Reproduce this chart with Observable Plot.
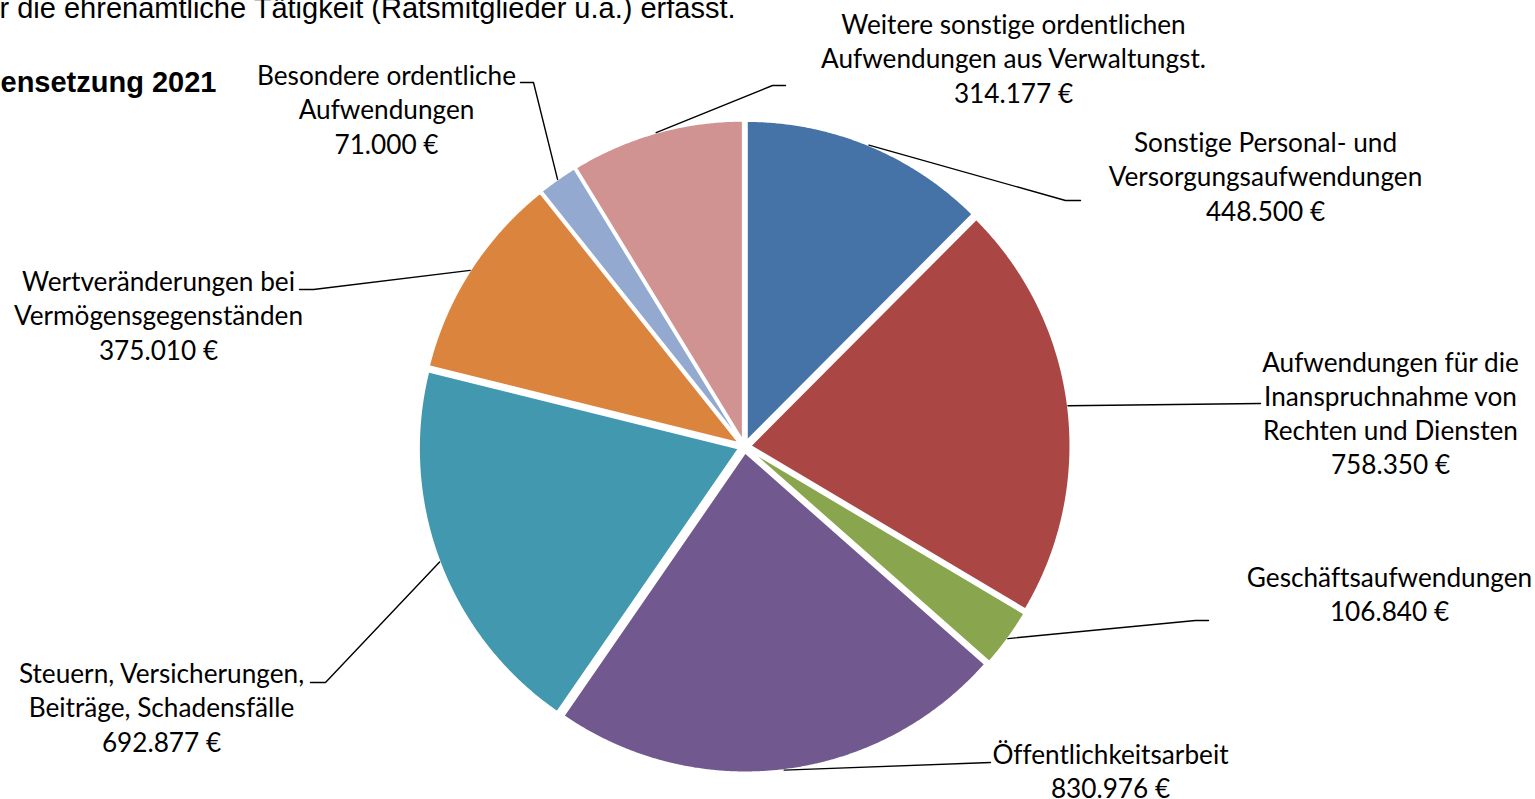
<!DOCTYPE html>
<html><head><meta charset="utf-8">
<script src="https://cdn.jsdelivr.net/npm/d3@7"></script>
<script src="https://cdn.jsdelivr.net/npm/@observablehq/plot@0.6"></script>
<style>html,body{margin:0;padding:0;background:#fff;overflow:hidden}
svg text{font-variant-ligatures:none;font-feature-settings:"liga" 0,"clig" 0}</style>
</head><body><div id="chart"></div>
<script>
// ---- data ----
const categories = [
  "Sonstige Personal- und\nVersorgungsaufwendungen",
  "Aufwendungen für die\nInanspruchnahme von\nRechten und Diensten",
  "Geschäftsaufwendungen",
  "Öffentlichkeitsarbeit",
  "Steuern, Versicherungen,\nBeiträge, Schadensfälle",
  "Wertveränderungen bei\nVermögensgegenständen",
  "Besondere ordentliche\nAufwendungen",
  "Weitere sonstige ordentlichen\nAufwendungen aus Verwaltungst."
];
const values = [448500, 758350, 106840, 830976, 692877, 375010, 71000, 314177];
const colors = ["#4572A7", "#AA4643", "#89A54E", "#71588F", "#4198AF", "#DB843D", "#93A9CF", "#D19392"];
const introText = "r die ehrenamtliche Tätigkeit (Ratsmitglieder u.a.) erfasst.";
const titleText = "ensetzung 2021";

// ---- layout ----
const W = 1535, H = 799;
const CX = 744, CY = 446, R = 320, EXPLODE = 6;
const labelAt = [[1265,175],[1390,411.5],[1389,592.5],[1110,769.5],[161,706],[158,314],[386,108],[1013,57]];
const leaderElbow = [[1065,200],[1260,403],[1195,620],[990,762],[325,682],[313,289],[533,82],[772,85]];
const leaderEnd = [[1080,200],[1260,403],[1208,620],[990,762],[310,682],[299,289],[520,82],[785,85]];

const loc = d3.formatLocale({decimal: ",", thousands: ".", grouping: [3], currency: ["", " €"]});
const fmt = loc.format(",.0f");

const arcs = d3.pie().sort(null).value(d => d)(values);

// slice outlines (geometry derived from the pie angles)
const slicePts = [];
arcs.forEach((a, i) => {
  const mid = (a.startAngle + a.endAngle) / 2;
  const ox = CX + EXPLODE * Math.sin(mid), oy = CY - EXPLODE * Math.cos(mid);
  slicePts.push({i, x: ox, y: oy});
  const n = Math.max(2, Math.ceil((a.endAngle - a.startAngle) / 0.005));
  for (let k = 0; k <= n; k++) {
    const t = a.startAngle + (a.endAngle - a.startAngle) * k / n;
    slicePts.push({i, x: ox + R * Math.sin(t), y: oy - R * Math.cos(t)});
  }
});

const leaderPts = [];
arcs.forEach((a, i) => {
  const mid = (a.startAngle + a.endAngle) / 2;
  const rr = R + EXPLODE;
  leaderPts.push({i, x: CX + rr * Math.sin(mid), y: CY - rr * Math.cos(mid)});
  leaderPts.push({i, x: leaderElbow[i][0], y: leaderElbow[i][1]});
  leaderPts.push({i, x: leaderEnd[i][0], y: leaderEnd[i][1]});
});

const labels = arcs.map((a, i) => ({
  x: labelAt[i][0], y: labelAt[i][1],
  text: categories[i] + "\n" + fmt(values[i]) + " €"
}));

const chart = Plot.plot({
  width: W, height: H, margin: 0,
  x: {domain: [0, W], range: [0, W], axis: null},
  y: {domain: [0, H], range: [0, H], axis: null},
  color: {type: "identity"},
  style: {background: "#fff"},
  marks: [
    Plot.line(slicePts, {x: "x", y: "y", z: "i", fill: d => colors[d.i], stroke: "#fff", strokeWidth: 2, curve: "linear-closed"}),
    Plot.line(leaderPts, {x: "x", y: "y", z: "i", stroke: "#000", strokeWidth: 1.4, strokeLinejoin: "miter"}),
    Plot.text(labels, {x: "x", y: "y", text: "text", fontFamily: "Lato", fontSize: 26.2, lineHeight: 1.31, textAnchor: "middle", lineAnchor: "middle", fill: "#000"}),
    Plot.text([introText], {x: () => -1, y: () => 17, text: d => d, fontFamily: "Liberation Sans", fontSize: 29, textAnchor: "start", lineAnchor: "bottom", fill: "#000"}),
    Plot.text([titleText], {x: () => 0, y: () => 91, text: d => d, fontFamily: "Liberation Sans", fontWeight: "bold", fontSize: 29, textAnchor: "start", lineAnchor: "bottom", fill: "#000"})
  ]
});
document.getElementById("chart").appendChild(chart);
</script>
</body></html>
